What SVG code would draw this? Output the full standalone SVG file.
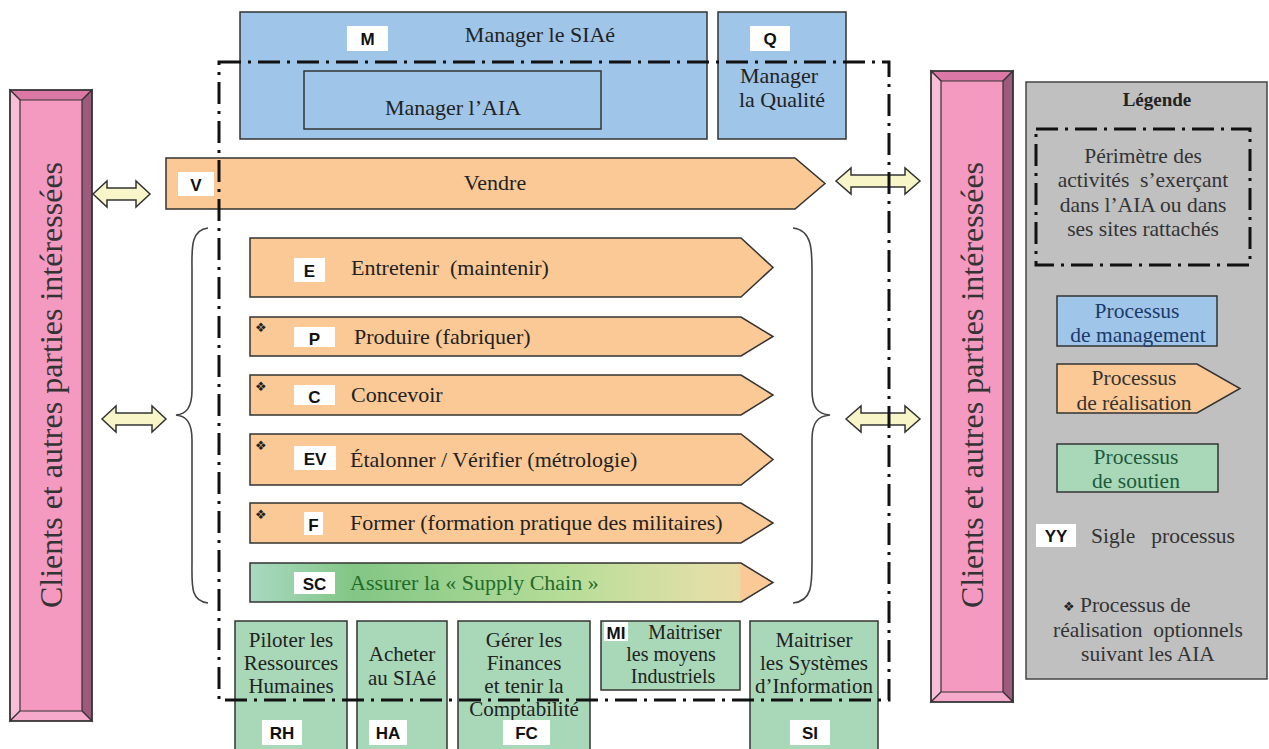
<svg xmlns="http://www.w3.org/2000/svg" width="1269" height="749" viewBox="0 0 1269 749">
<defs>
<style>
.t{font-family:'Liberation Serif','DejaVu Serif',serif;font-size:22px;fill:#222;}
.s{font-size:21px;}
.m{font-size:20px;}
.tc{text-anchor:middle;}
.lb{font-family:'Liberation Sans',Arial,sans-serif;font-weight:bold;font-size:17px;fill:#111;text-anchor:middle;}
.wb{fill:#fff;}
.blue{fill:#9fc5e8;stroke:#333;stroke-width:1.5;}
.org{fill:#fbc995;stroke:#333;stroke-width:1.5;}
.grn{fill:#a8d8b8;stroke:#333;stroke-width:1.5;}
.dd{fill:none;stroke:#111;stroke-width:3;stroke-dasharray:22 7 3 7;}
.dbl{fill:#f8f6c8;stroke:#333;stroke-width:1.5;}
.pil{font-family:'Liberation Serif','DejaVu Serif',serif;font-size:32px;fill:#333;text-anchor:middle;}
.star{font-family:'DejaVu Sans',sans-serif;font-size:13px;fill:#222;}
.edge{stroke:#333;stroke-width:1.2;}
.lg{font-size:21.5px;fill:#333;}
</style>
<linearGradient id="scg" x1="0" y1="0" x2="1" y2="0">
<stop offset="0" stop-color="#a9d9c2"/>
<stop offset="0.2" stop-color="#82c685"/>
<stop offset="0.6" stop-color="#b6dd98"/>
<stop offset="0.86" stop-color="#dfdfa6"/>
<stop offset="0.935" stop-color="#e8dca5"/>
<stop offset="0.94" stop-color="#fbc995"/>
<stop offset="1" stop-color="#fbc995"/>
</linearGradient>
</defs>
<rect width="1269" height="749" fill="#fff"/>

<g id="pillar-left">
<rect x="10" y="90" width="82" height="631" fill="#f49ac1"/>
<polygon points="10,90 92,90 82,100 20,100" fill="#dc78a6" class="edge"/>
<polygon points="10,90 20,100 20,711 10,721" fill="#f8bdd7" class="edge"/>
<polygon points="92,90 82,100 82,711 92,721" fill="#9c5a7c" class="edge"/>
<polygon points="10,721 20,711 82,711 92,721" fill="#f5a9cb" class="edge"/>
<rect x="10" y="90" width="82" height="631" fill="none" stroke="#333" stroke-width="1.5"/>
<text class="pil" transform="translate(62,385) rotate(-90)">Clients et autres parties intéressées</text>
</g>

<g id="pillar-right">
<rect x="931" y="71" width="82" height="631" fill="#f49ac1"/>
<polygon points="931,71 1013,71 1003,81 941,81" fill="#dc78a6" class="edge"/>
<polygon points="931,71 941,81 941,692 931,702" fill="#f8bdd7" class="edge"/>
<polygon points="1013,71 1003,81 1003,692 1013,702" fill="#9c5a7c" class="edge"/>
<polygon points="931,702 941,692 1003,692 1013,702" fill="#f5a9cb" class="edge"/>
<rect x="931" y="71" width="82" height="631" fill="none" stroke="#333" stroke-width="1.5"/>
<text class="pil" transform="translate(983,385) rotate(-90)">Clients et autres parties intéressées</text>
</g>

<g id="node-M">
<rect class="blue" x="240" y="12" width="467" height="127"/>
<rect class="wb" x="347" y="26" width="41" height="25"/>
<text class="lb" x="367.5" y="45">M</text>
<text class="t tc" x="540" y="42">Manager le SIAé</text>
</g>
<g id="node-AIA">
<rect class="blue" x="304" y="71" width="297" height="58"/>
<text class="t tc" x="453" y="115">Manager l’AIA</text>
</g>
<g id="node-Q">
<rect class="blue" x="718" y="12" width="128" height="127"/>
<rect class="wb" x="750" y="26" width="40" height="25"/>
<text class="lb" x="770" y="45">Q</text>
<text class="t tc" x="779" y="83">Manager</text>
<text class="t tc" x="782" y="107">la Qualité</text>
</g>

<g id="node-V">
<polygon class="org" points="166,158 795,158 825,183.5 795,209 166,209"/>
<rect class="wb" x="178" y="172" width="36" height="24"/>
<text class="lb" x="196" y="191">V</text>
<text class="t tc" x="495" y="190">Vendre</text>
</g>

<g id="node-E">
<polygon class="org" points="250,238 741,238 773,267.5 741,297 250,297"/>
<rect class="wb" x="294" y="258" width="31" height="24"/>
<text class="lb" x="309.5" y="277">E</text>
<text class="t" x="351" y="275" xml:space="preserve">Entretenir  (maintenir)</text>
</g>
<g id="node-P">
<polygon class="org" points="250,317 741,317 773,336.5 741,356 250,356"/>
<text class="star" x="255" y="332">❖</text>
<rect class="wb" x="294" y="327" width="41" height="20"/>
<text class="lb" x="314.5" y="345">P</text>
<text class="t" x="354" y="344">Produire (fabriquer)</text>
</g>
<g id="node-C">
<polygon class="org" points="250,375 741,375 773,395 741,415 250,415"/>
<text class="star" x="255" y="391">❖</text>
<rect class="wb" x="294" y="385" width="41" height="20"/>
<text class="lb" x="314.5" y="403">C</text>
<text class="t" x="351" y="402">Concevoir</text>
</g>
<g id="node-EV">
<polygon class="org" points="250,434 741,434 773,459.5 741,485 250,485"/>
<text class="star" x="255" y="450">❖</text>
<rect class="wb" x="294" y="446" width="42" height="24"/>
<text class="lb" x="315" y="465">EV</text>
<text class="t" x="350" y="467">Étalonner / Vérifier (métrologie)</text>
</g>
<g id="node-F">
<polygon class="org" points="250,503 741,503 773,523 741,543 250,543"/>
<text class="star" x="255" y="519">❖</text>
<rect class="wb" x="304" y="512" width="19" height="23"/>
<text class="lb" x="313.5" y="531">F</text>
<text class="t" x="350" y="530">Former (formation pratique des militaires)</text>
</g>
<g id="node-SC">
<polygon points="250,563 741,563 773,582.5 741,602 250,602" fill="url(#scg)" stroke="#333" stroke-width="1.5"/>
<rect class="wb" x="294" y="572" width="41" height="22"/>
<text class="lb" x="314.5" y="590">SC</text>
<text class="t" x="350" y="590" style="fill:#1f6b2a">Assurer la « Supply Chain »</text>
</g>

<g id="node-RH">
<rect class="grn" x="235" y="621" width="112" height="132"/>
<text class="t s tc" x="291" y="647">Piloter les</text>
<text class="t s tc" x="291" y="670">Ressources</text>
<text class="t s tc" x="291" y="693">Humaines</text>
<rect class="wb" x="262" y="720" width="40" height="25"/>
<text class="lb" x="282" y="739">RH</text>
</g>
<g id="node-HA">
<rect class="grn" x="357" y="621" width="90" height="132"/>
<text class="t s tc" x="402" y="661">Acheter</text>
<text class="t s tc" x="402" y="685">au SIAé</text>
<rect class="wb" x="369" y="720" width="38" height="25"/>
<text class="lb" x="388" y="739">HA</text>
</g>
<g id="node-FC">
<rect class="grn" x="458" y="621" width="132" height="132"/>
<text class="t s tc" x="524" y="647">Gérer les</text>
<text class="t s tc" x="524" y="670">Finances</text>
<text class="t s tc" x="524" y="693">et tenir la</text>
<text class="t s tc" x="524" y="716">Comptabilité</text>
<rect class="wb" x="503" y="720" width="47" height="25"/>
<text class="lb" x="526.5" y="739">FC</text>
</g>
<g id="node-MI">
<rect class="grn" x="601" y="621" width="139" height="69"/>
<rect class="wb" x="604" y="622" width="24" height="19"/>
<text class="lb" x="616" y="639">MI</text>
<text class="t m tc" x="685" y="639">Maitriser</text>
<text class="t m tc" x="671" y="661">les moyens</text>
<text class="t m tc" x="673" y="683">Industriels</text>
</g>
<g id="node-SI">
<rect class="grn" x="750" y="621" width="128" height="132"/>
<text class="t s tc" x="814" y="647">Maitriser</text>
<text class="t s tc" x="814" y="670">les Systèmes</text>
<text class="t s tc" x="814" y="693">d’Information</text>
<rect class="wb" x="790" y="720" width="40" height="25"/>
<text class="lb" x="810" y="739">SI</text>
</g>

<g id="connectors">
<path d="M208,228 C190,230 192,250 192,270 L192,390 C192,408 186,414 176,415 C186,416 192,422 192,440 L192,562 C192,585 190,601 208,603" fill="none" stroke="#444" stroke-width="1.6"/>
<path d="M793,228 C812,230 812,250 812,270 L812,390 C812,408 818,414 830,415 C818,416 812,422 812,440 L812,562 C812,585 812,601 793,603" fill="none" stroke="#444" stroke-width="1.6"/>
<path class="dbl" d="M93,194 L107,181 L107,188 L136,188 L136,181 L150,194 L136,207 L136,200 L107,200 L107,207 Z"/>
<path class="dbl" d="M102,419 L116,406 L116,413 L152,413 L152,406 L166,419 L152,432 L152,425 L116,425 L116,432 Z"/>
<path class="dbl" d="M836,181 L851,168 L851,175 L905,175 L905,168 L920,181 L905,194 L905,187 L851,187 L851,194 Z"/>
<path class="dbl" d="M846,419 L861,406 L861,413 L905,413 L905,406 L920,419 L905,432 L905,425 L861,425 L861,432 Z"/>
</g>

<g id="perimeter">
<rect class="dd" x="219" y="62" width="670" height="638"/>
</g>

<g id="legend">
<rect x="1026" y="82" width="241" height="597" fill="#c0c0c0" stroke="#444" stroke-width="1.5"/>
<text class="t tc" x="1157" y="106" style="font-weight:bold;font-size:19px">Légende</text>
<rect class="dd" x="1036" y="129" width="214" height="136"/>
<text class="t tc lg" x="1143" y="163">Périmètre des</text>
<text class="t tc lg" x="1143" y="187" xml:space="preserve">activités  s’exerçant</text>
<text class="t tc lg" x="1143" y="212">dans l’AIA ou dans</text>
<text class="t tc lg" x="1143" y="236">ses sites rattachés</text>
<rect class="blue" x="1057" y="296" width="160" height="50"/>
<text class="t tc lg" x="1137" y="318" style="fill:#1a3a6a">Processus</text>
<text class="t tc lg" x="1138" y="342" style="fill:#1a3a6a">de management</text>
<polygon class="org" points="1057,364 1197,364 1240,388.5 1197,413 1057,413"/>
<text class="t tc lg" x="1134" y="385">Processus</text>
<text class="t tc lg" x="1134" y="410">de réalisation</text>
<rect class="grn" x="1057" y="444" width="161" height="48"/>
<text class="t tc lg" x="1136" y="464" style="fill:#1d5a3a">Processus</text>
<text class="t tc lg" x="1136" y="488" style="fill:#1d5a3a">de soutien</text>
<rect class="wb" x="1036" y="524" width="40" height="23"/>
<text class="lb" x="1056" y="542">YY</text>
<text class="t lg" x="1091" y="543" xml:space="preserve">Sigle   processus</text>
<text class="star" x="1063" y="611">❖</text>
<text class="t lg" x="1080" y="612">Processus de</text>
<text class="t tc lg" x="1148" y="637" xml:space="preserve">réalisation  optionnels</text>
<text class="t tc lg" x="1148" y="661">suivant les AIA</text>
</g>
</svg>
